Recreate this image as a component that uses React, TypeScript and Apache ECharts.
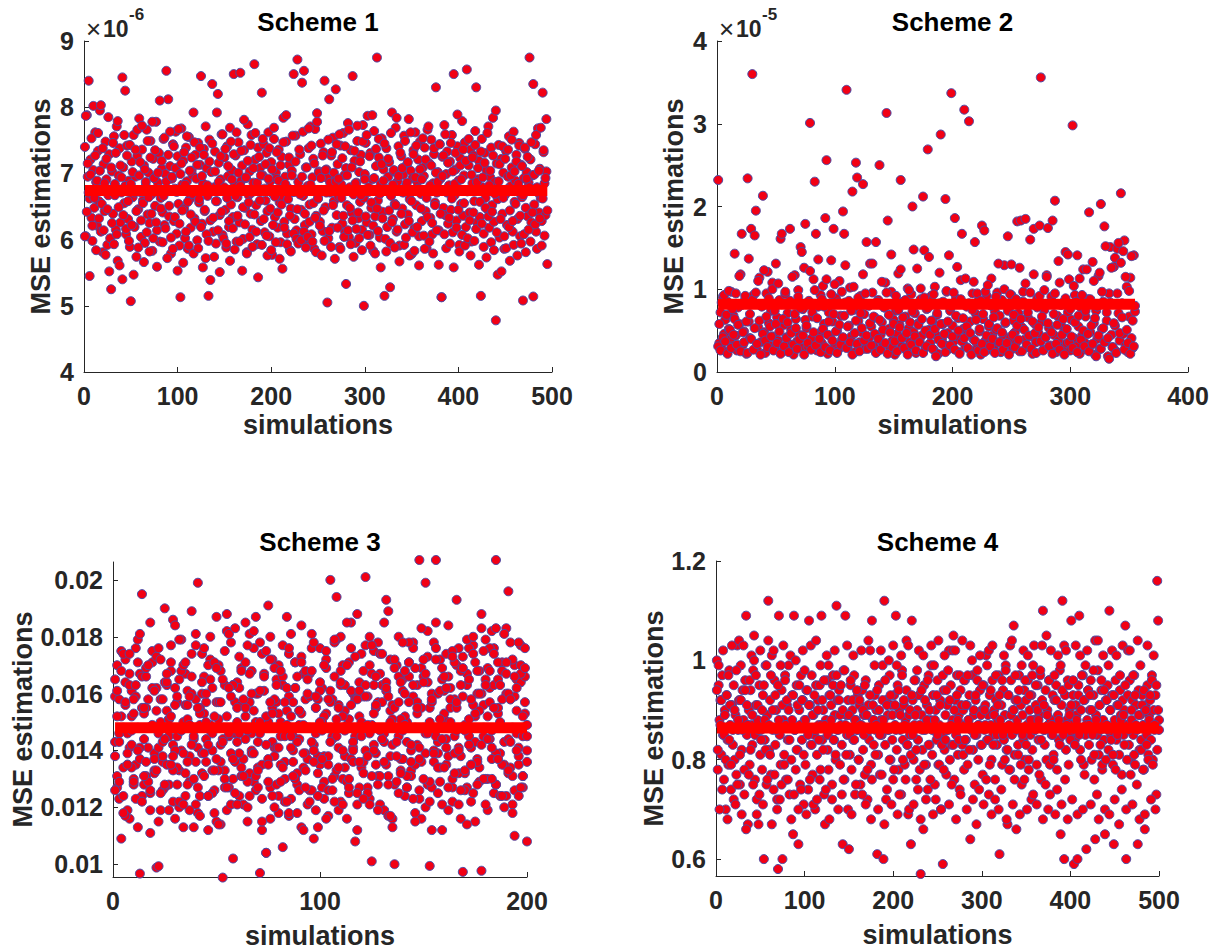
import React, { useEffect, useRef } from "react";
import * as echarts from "echarts";

// ---------------- DATA ----------------
const titles = ["Scheme 1", "Scheme 2", "Scheme 3", "Scheme 4"];
const xTickMax = [500, 400, 200, 500];
const exponentLabels = ["-6", "-5", "", ""];
// mean level drawn as the thick red line (same units as each panel's data)
const meanValues = [6.74, 0.82, 0.0148, 0.864];

// Scheme 1 values in units of 1e-6
const scheme1A = [
7.40,6.05,7.88,6.95,8.40,6.62,7.21,6.33,5.98,7.05,6.48,7.62,6.87,6.21,7.34,
6.58,7.95,6.12,6.76,5.81,7.14,6.43,7.48,6.91,5.92,6.67,7.29,6.02,5.25,7.03,
6.39,7.56,6.84,6.15,7.71,5.68,6.97,7.38,6.26,6.71,8.45,7.09,6.55,8.25,6.08,
7.42,6.31,6.89,5.89,5.07,7.18,6.64,7.58,6.19,6.95,5.74,7.27,6.46,7.83,6.72,
6.04,7.36,6.59,7.12,5.95,6.81,7.66,6.38,7.01,6.25,7.49,6.68,5.83,7.22,6.93,
6.51,7.78,6.14,6.86,7.31,5.97,6.63,7.07,6.41,7.52,6.22,6.99,8.55,6.74,8.12,
6.35,7.11,5.79,6.92,7.44,6.28,6.77,7.63,6.09,7.26,6.54,5.91,5.13,7.68,6.83,
7.19,6.47,6.02,7.39,6.88,5.86,7.55,6.61,6.18,7.04,6.97,7.92,6.32,7.28,6.71,
5.99,7.46,6.56,7.13,8.47,6.24,6.85,7.37,6.43,5.72,7.08,6.66,5.15,7.51,6.29,
7.02,8.35,6.12,6.79,7.33,5.94,6.58,8.20,7.16,6.37,6.91,7.59,6.07,6.73,7.24,
6.45,5.88,7.41,6.96,6.19,7.69,6.53,7.05,6.34,8.50,6.82,7.27,5.97,6.64,7.47,
6.26,8.52,6.89,7.12,6.01,7.35,6.48,6.93,5.81,7.74,6.67,7.03,6.39,7.58,6.15,
6.86,8.65,7.21,6.52,5.93,7.39,6.74,7.08,6.28,8.22,6.97,7.44,6.11,6.59,7.31,
6.43,7.62,6.05,6.88,7.17,5.77,6.69,7.52,6.34,7.01,6.92,6.18,7.36,6.56,5.96,
7.25,6.63,7.84,6.27,6.95,7.48,6.09,6.78,7.13,5.84,6.47,7.04,6.72,8.50,6.31,
7.57,6.14,8.72,6.87,6.01,7.29,6.45,8.37,6.66,8.55,6.22,7.09,5.92,6.81,7.38,
6.53,7.71,6.08,6.94,7.22,5.86,7.67,6.36,7.91,6.62,7.03,6.27,7.45,6.75,6.13,
7.32,8.40,6.49,7.06,6.93,6.02,8.12,6.71,7.27,6.18,7.54,6.58,6.89,8.27,6.37,
7.14,6.65,5.89,7.42,6.83,6.24,7.61,6.97,6.11,7.08,6.52,7.76,6.04,6.79,7.35,
6.41,8.47,6.68,7.19,5.95,6.86,7.49,6.32,7.02,6.57,7.28,6.15,7.73,6.63,6.99,
7.46,6.26,7.87,6.72,6.07,7.31,6.48,6.91,5.83,7.64,6.35,7.11,8.75,6.59,7.24,
6.03,6.84,7.53,6.42,7.06,5.15,6.77,7.38,6.19,6.95,7.17,5.28,6.66,7.92,6.31,
7.03,6.54,7.69,6.12,6.88,7.41,5.91,6.73,7.26,6.47,6.98,7.57,6.23,6.81,7.13,
6.38,7.82,6.61,7.04,5.78,6.93,7.35,6.17,7.62,6.52,6.87,7.21,6.05,7.48,6.69,
6.28,7.09,6.96,7.39,6.43,5.87,7.66,6.75,7.15,6.33,7.51,6.08,6.85,7.29,6.56,
8.30,6.71,7.02,6.14,7.44,6.92,5.13,7.25,6.48,7.73,6.37,6.99,7.33,6.24,6.82,
7.18,6.45,7.58,6.11,8.50,6.67,7.06,6.29,7.41,6.89,5.92,7.23,6.54,7.79,6.36,
6.97,7.47,6.19,8.57,6.73,7.12,6.41,7.36,5.97,6.85,7.27,6.58,7.64,8.30,6.26,
6.91,7.19,6.34,5.15,7.52,6.79,6.09,7.31,6.63,7.05,6.46,7.71,6.18,6.94,7.39,
6.52,7.84,6.27,6.87,4.78,7.15,6.61,7.43,6.03,6.76,7.22,6.39,7.01,5.86,6.68,
7.34,6.22,6.95,7.56,6.44,6.81,7.09,6.12,7.63,6.57,6.89,7.28,6.31,6.72,7.46,
6.05,7.13,6.64,5.08,6.93,7.37,6.48,7.02,6.35,6.86,8.75,7.21,6.26,6.97,8.35,
6.53,7.44,6.12,6.79,7.68,6.41,7.07,6.63,6.28,8.22,7.32,6.85,6.37,7.03,5.63
];
const scheme1B = [
6.05,7.87,6.42,7.15,6.71,5.45,6.98,7.53,6.21,8.02,6.63,7.27,5.84,6.89,7.61,
6.32,7.04,8.03,6.54,7.38,6.14,6.85,5.77,7.22,6.46,7.85,5.52,6.73,7.09,6.25,
7.46,5.93,6.67,7.31,6.08,7.79,6.49,5.61,7.12,6.94,5.40,6.37,7.58,6.81,6.16,
7.27,6.58,5.98,7.43,6.84,6.22,7.02,5.47,6.71,7.36,6.43,7.66,5.88,6.97,7.17,
6.29,7.72,6.55,5.66,7.06,6.87,6.11,7.49,6.64,5.82,7.24,6.39,7.78,6.02,6.93,
7.35,6.26,5.59,7.01,6.76,8.10,6.47,7.19,5.96,6.66,7.54,6.17,6.88,5.72,7.28,
6.51,7.63,6.03,6.95,5.86,7.41,6.34,7.08,6.72,5.53,7.67,6.24,6.99,7.15,6.44,
5.65,7.32,6.83,6.12,7.56,6.57,5.91,7.04,6.38,7.24,6.69,5.79,7.47,6.27,6.92,
7.13,5.87,6.61,7.39,6.19,6.96,5.58,7.28,6.45,7.71,6.08,6.82,5.98,7.18,5.39,
6.74,7.45,6.33,5.74,7.03,6.58,7.92,6.14,6.87,5.51,7.26,6.42,7.59,6.02,6.79,
7.37,5.94,6.63,7.11,6.28,5.68,7.48,6.91,6.17,7.29,5.85,6.66,7.62,6.36,7.01,
5.97,6.81,7.34,5.53,6.49,7.81,6.23,6.94,5.79,7.19,6.56,6.04,7.43,6.71,5.89,
7.08,6.38,7.61,6.12,6.86,5.43,7.25,6.59,6.97,5.92,7.52,6.31,6.77,7.14,6.06,
5.76,6.92,7.38,6.47,5.84,7.06,6.22,7.69,6.65,5.96,7.32,6.41,6.89,5.71,7.12,
6.53,5.56,7.47,6.18,6.84,7.88,5.93,6.61,7.24,6.36,5.82,6.97,7.57,6.09,6.72,
7.18,6.01,6.46,5.94,7.36,6.68,5.99,6.95,7.63,6.12,6.39,5.88,7.09,6.04,7.68,
6.27,6.83,7.42,5.97,6.55,7.15,6.33,5.81,7.78,6.62,7.01,6.21,6.93,5.76,7.27,
6.44,5.98,7.05,6.71,5.05,7.51,6.13,6.86,5.89,7.32,6.52,7.01,5.71,6.88,7.44,
6.18,6.92,7.59,5.86,6.63,7.23,6.36,6.04,7.41,5.33,6.97,6.14,7.66,6.48,5.93,
7.09,6.29,5.74,7.34,6.85,6.16,7.72,6.41,6.02,7.18,6.67,5.84,7.48,5.00,6.91,
6.35,7.58,6.07,6.79,7.26,5.91,6.56,7.88,6.21,6.93,5.79,7.37,6.47,6.13,7.52,
6.69,5.58,7.14,6.32,6.89,7.45,6.01,5.82,6.74,7.22,6.44,5.95,7.61,6.26,6.83,
7.05,5.88,6.52,7.84,6.15,6.96,5.67,7.31,6.39,7.08,6.71,5.92,7.49,6.03,6.86,
7.17,6.28,5.76,7.62,6.58,6.11,7.29,5.83,6.94,7.42,6.19,6.77,5.61,7.06,6.47,
6.91,7.53,6.06,5.86,7.21,6.63,6.34,7.71,5.97,6.82,7.12,6.25,5.79,7.38,6.52,
7.01,6.14,6.87,5.62,7.44,6.39,5.13,6.96,7.27,6.08,7.59,5.87,6.71,7.16,6.33,
5.94,7.46,6.62,7.03,5.58,6.84,7.31,6.18,7.89,6.45,5.82,7.12,6.91,6.07,7.36,
6.55,5.91,7.19,6.73,6.02,7.52,6.29,5.76,6.98,7.24,6.41,5.98,7.43,6.16,6.87,
7.08,5.62,6.57,7.33,6.24,6.94,5.89,7.16,6.48,5.73,7.61,6.35,6.82,7.04,5.96,
6.42,7.27,5.84,6.69,7.95,6.11,5.47,6.88,7.14,6.31,5.52,7.41,6.63,6.05,7.22,
5.87,6.76,7.36,6.19,5.68,6.97,7.51,6.28,5.92,7.03,6.54,7.18,5.76,6.84,7.42,
6.36,5.94,7.11,6.67,6.08,7.39,5.81,6.92,7.25,6.15,6.79,5.97,7.47,6.41,5.14,
6.98,6.23,7.58,5.86,6.71,7.04,6.32,7.69,5.91,6.62,7.35,6.06,6.93,7.82,6.44
];

// Scheme 2 values in units of 1e-5
const scheme2A = [
2.32,0.35,0.72,0.28,0.91,0.46,0.63,0.24,0.85,0.52,0.39,0.97,0.31,0.68,1.43,
0.44,0.26,0.78,0.58,1.18,1.67,0.33,0.49,0.88,0.22,2.34,0.61,0.41,1.73,3.60,
0.93,1.65,1.95,0.27,0.54,1.14,0.36,0.81,2.13,0.48,0.23,0.95,1.21,0.59,0.32,
0.74,1.08,0.43,0.29,1.31,0.66,0.38,0.87,1.61,1.67,0.25,0.57,0.94,0.42,0.71,
0.34,1.73,0.51,0.82,0.21,1.17,0.64,0.37,0.99,0.45,1.51,0.29,0.76,1.26,1.79,
0.53,0.31,0.86,3.01,0.40,0.67,1.12,2.30,1.67,0.26,0.79,0.47,0.93,0.35,1.04,
0.58,1.86,2.56,0.22,0.72,0.44,1.35,0.61,1.73,0.33,0.89,0.50,0.27,1.10,0.68,
0.39,1.94,1.67,0.84,3.41,0.30,0.56,1.02,0.43,2.18,0.75,0.24,2.53,2.35,0.62,
0.36,0.92,0.48,2.27,0.70,0.28,1.57,0.81,0.41,1.31,0.55,0.96,0.32,0.66,1.57,
0.25,0.87,2.50,0.45,0.60,0.34,0.78,1.08,3.13,1.83,0.52,0.29,0.97,0.38,0.63,
0.21,0.74,0.46,1.19,0.57,2.32,0.31,0.85,0.42,0.67,0.26,1.01,0.53,0.36,0.94,
2.00,0.48,0.71,0.23,1.25,0.59,0.38,0.88,0.44,2.12,1.47,0.30,0.76,2.69,0.51,
0.35,0.92,0.62,0.27,1.03,0.45,0.69,0.22,0.83,2.87,0.40,0.58,0.33,2.09,0.97,
0.47,0.28,0.74,3.37,0.56,0.37,1.86,0.89,0.43,0.65,0.24,1.11,1.67,0.52,3.17,
0.31,0.79,0.46,3.03,0.61,0.26,0.95,0.39,1.57,0.70,0.34,0.86,0.49,0.21,1.77,
0.64,1.71,0.38,0.92,0.27,0.55,0.81,1.13,0.44,0.30,0.73,0.51,0.96,0.36,0.68,
0.24,0.87,0.45,1.29,0.59,0.33,1.64,0.77,0.41,0.93,0.28,0.62,0.48,0.35,1.82,
0.71,0.25,1.83,0.54,0.97,0.39,1.85,0.30,0.66,0.82,1.60,0.43,0.22,1.73,0.58,
0.36,0.89,0.47,1.77,3.56,0.61,0.27,0.75,0.42,1.17,1.74,0.53,0.32,0.91,1.83,
0.45,2.07,0.24,0.68,0.38,1.08,0.57,0.29,0.84,0.49,1.45,0.35,0.72,1.12,0.26,
0.63,2.98,0.41,0.93,0.31,1.41,0.55,0.22,0.78,0.44,1.24,0.36,0.67,0.27,0.88,
1.93,0.48,0.33,1.33,0.59,0.21,0.74,0.40,1.16,0.28,2.03,0.52,0.85,1.76,0.37,
0.62,0.19,0.95,1.51,0.45,0.30,1.27,0.56,0.25,1.49,0.71,0.38,2.16,0.83,0.46,
1.59,0.32,1.03,0.24,0.67,1.14,0.41,0.29,1.41,0.73
];
const scheme2B = [
0.31,0.58,0.26,0.84,0.42,0.93,0.37,0.69,0.22,0.98,0.51,0.29,0.76,0.45,0.64,
0.95,0.33,0.57,1.16,0.25,0.81,0.48,0.36,0.92,0.61,0.23,1.37,0.70,0.40,0.87,
0.27,0.53,0.96,0.34,1.10,0.62,0.21,0.79,0.46,1.23,0.38,0.67,0.30,0.89,0.55,
0.43,1.00,0.26,0.74,0.58,0.35,1.07,0.49,0.22,0.82,0.64,0.31,0.97,0.41,0.60,
0.24,0.86,0.47,1.15,0.33,0.70,0.53,0.28,0.91,0.39,0.77,1.45,0.44,0.21,0.63,
0.56,0.35,0.83,1.22,0.27,0.72,0.48,0.99,0.32,0.65,1.36,0.40,0.24,0.88,0.52,
0.79,0.30,1.12,0.45,0.61,0.26,0.94,0.38,0.70,1.06,0.49,0.23,0.84,0.57,0.33,
0.97,0.42,0.68,1.29,0.29,0.55,0.86,0.36,0.74,0.21,1.03,0.47,0.62,0.34,0.90,
0.25,0.71,0.53,1.18,0.38,0.95,0.44,0.28,0.80,0.59,0.32,1.31,0.67,0.46,0.23,
0.85,0.40,0.63,0.27,1.09,0.51,0.78,0.35,0.96,0.22,0.69,0.48,1.42,0.30,0.58,
0.37,0.92,0.25,0.75,0.54,1.24,0.41,0.66,0.29,0.87,0.47,0.21,0.99,0.60,0.33,
0.73,1.48,0.43,0.26,0.82,0.57,0.36,1.01,0.64,0.23,0.90,0.50,0.31,0.77,1.39,
0.45,0.62,0.28,0.94,0.52,0.19,0.71,0.39,1.20,0.58,0.34,0.85,0.46,0.24,0.98,
0.61,1.41,0.32,0.79,0.43,0.96,0.27,0.68,1.27,0.50,0.22,0.88,0.37,0.65,0.41,
1.13,0.55,0.29,0.83,0.47,0.21,0.75,1.09,0.38,0.63,0.95,0.26,0.52,0.86,0.34,
0.70,0.24,0.97,0.44,1.05,0.58,0.31,0.80,0.40,0.66,0.23,0.91,0.53,1.31,0.36,
0.82,0.48,0.27,1.00,0.60,0.35,0.74,0.21,0.94,1.30,0.45,0.69,0.30,0.88,0.56,
0.39,1.26,0.64,0.25,0.85,0.51,1.07,0.33,0.72,0.44,0.96,0.28,0.61,1.18,0.47,
0.23,0.78,0.54,0.92,0.37,0.67,0.26,0.99,0.42,1.15,0.59,0.31,0.83,0.48,0.22,
0.70,0.95,0.34,0.57,1.34,0.27,0.81,0.45,0.64,0.21,0.89,0.52,1.42,0.36,0.76,
0.43,0.29,1.04,0.60,0.85,0.24,0.68,1.13,0.39,0.93,0.50,0.31,0.74,1.24,0.46,
0.25,0.88,0.56,0.34,1.10,0.65,0.19,0.79,0.44,1.20,0.28,0.97,0.53,0.36,1.52,
0.72,0.41,0.16,0.84,1.26,0.30,0.59,1.38,0.23,0.95,1.56,0.47,1.32,0.66,1.46,
0.27,1.15,0.51,0.35,0.98,0.22,1.40,0.62,0.31,0.80
];

// Scheme 3 values
const scheme3A = [
.0159,.0170,.0123,.0109,.0148,.0164,.0135,.0141,.0152,.0128,.0176,.0113,.0167,.0195,.0144,.0131,.0158,.0125,.0171,.0139,
.0162,.0146,.0119,.0136,.0190,.0154,.0128,.0168,.0142,.0116,.0157,.0133,.0179,.0150,.0124,.0161,.0138,.0189,.0147,.0121,
.0199,.0155,.0132,.0166,.0144,.0112,.0172,.0140,.0126,.0187,.0151,.0136,.00953,.0163,.0119,.0145,.0178,.0130,.0157,.0143,
.0124,.0169,.0137,.0152,.0115,.0181,.0146,.0129,.0160,.0134,.00969,.0174,.0149,.0104,.0191,.0127,.0155,.0141,.0165,.0118,
.0150,.0106,.0136,.0187,.0159,.0123,.0145,.0171,.0132,.0154,.0113,.0167,.0139,.0148,.0126,.0176,.0142,.0119,.0158,.0135,
.0162,.0129,.0153,.0117,.0200,.0144,.0131,.0194,.0156,.0122,.0170,.0138,.0149,.0125,.0185,.0141,.0160,.0112,.0152,.0134,
.0168,.0201,.0127,.0146,.0101,.0175,.0139,.0157,.0121,.0163,.0143,.0193,.0131,.0154,.0116,.0100,.0148,.0180,.0137,.0165,
.0124,.0150,.0171,.0133,.0159,.0118,.0142,.0207,.0136,.0166,.0199,.0128,.0155,.0112,.0147,.0207,.0139,.0172,.0121,.0161,
.0135,.0184,.0149,.0127,.0158,.0193,.0141,.0116,.0173,.0132,.0163,.0145,.0122,.0177,.0152,.0137,.0168,.00977,.0156,.0130,
.0169,.0144,.0182,.0125,.0207,.0153,.0139,.0171,.0120,.0160,.0196,.0134,.0148,.0126,.0165,.0141,.0177,.0131,.0157,.0108
];
const scheme3B = [
.0143,.0131,.0158,.0147,.0124,.0172,.0139,.0116,.0161,.0153,.0135,.0148,.00967,.0166,.0128,.0155,.0141,.0119,.0175,.0133,
.00988,.00993,.0150,.0138,.0127,.0163,.0145,.0171,.0122,.0156,.0134,.0179,.0140,.0113,.0167,.0151,.0129,.0160,.0144,.0136,
.0118,.0149,.0174,.0131,.0157,.0142,.0165,.0125,.0152,.0137,.0170,.0114,.0148,.0133,.0182,.0127,.0159,.0102,.0146,.0164,
.0139,.0156,.0121,.0185,.0147,.0132,.0168,.0154,.0126,.0143,.0178,.0135,.0161,.0104,.0150,.0116,.0172,.0138,.0157,.0124,
.0145,.0166,.0130,.0154,.0117,.0181,.0140,.0162,.0128,.0149,.0173,.0134,.0158,.0121,.0167,.0143,.0109,.0155,.0138,.0176,
.0127,.0152,.0169,.0135,.0148,.0158,.0122,.0179,.0141,.0163,.0130,.0154,.0116,.0171,.0137,.0160,.0145,.0188,.0127,.0150,
.0136,.0177,.0159,.0123,.0167,.0142,.0155,.0131,.0174,.0147,.0119,.0164,.0189,.0138,.0156,.0128,.0170,.0145,.0133,.0161,
.0152,.0127,.0166,.0140,.0178,.0135,.0157,.0126,.0169,.0148,.0120,.0173,.00994,.0160,.0136,.0185,.0143,.0129,.0165,.0151,
.0174,.0138,.0158,.0122,.0145,.0170,.0132,.0163,.00973,.0149,.0127,.0176,.0141,.0156,.0115,.0168,.0134,.0160,.0145,.0179,
.0130,.0162,.0147,.0176,.0139,.0155,.0124,.0168,.0143,.0183,.0132,.0158,.0121,.0170,.0146,.0135,.0164,.0127,.0153,.0140
];
const scheme3C = [
.0165,.0127,.0146,.0175,.0134,.0156,.0119,.0163,.0142,.0130,.0159,.0171,.0137,.0124,.0153,.0166,.0129,.0185,.0148,.0132,
.0173,.0141,.0158,.0126,.0164,.0135,.0151,.0177,.0133,.0162,.0145,.0120,.0168,.0139,.0156,.0128,.0149,.0174,.0113,.0158,
.0141,.0124,.0160,.0153,.0136,.0170,.0147,.0162,.0118,.0157,.0133,.0168,.0144,.0127,.0152,.0181,.0139,.0163,.0125,.0150,
.0162,.0134,.0148,.0171,.0129,.0157,.0140,.0176,.0131,.0160,.0146,.0123,.0167,.0152,.0137,.0180,.0143,.0158,.0128,.0170,
.0135,.0163,.0122,.0149,.0174,.0141,.0157,.0130,.0166,.0144,.0153,.0112,.0168,.0137,.0159,.0126,.0178,.0146,.0132,.0161,
.0150,.0138,.0172,.0126,.0161,.0145,.0178,.0133,.0155,.0168,.0140,.0163,.0129,.0151,.0176,.0136,.0158,.0121,.0164,.0147,
.0159,.0140,.0125,.0170,.0149,.0163,.0135,.0178,.0131,.0157,.0146,.0161,.0117,.0172,.0142,.0155,.0129,.0166,.0151,.0137,
.0168,.0143,.0157,.0131,.0176,.0148,.0163,.0123,.0155,.0172,.0139,.0164,.0150,.0127,.0178,.0145,.0160,.0134,.0169,.0153,
.0141,.0166,.0155,.0130,.0171,.0147,.0176,.0138,.0159,.0126,.0167,.0151,.0135,.0174,.0143,.0160,.0129,.0183,.0148,.0165,
.0152,.0176,.0137,.0163,.0128,.0171,.0149,.0158,.0135,.0167,.0144,.0178,.0131,.0159,.0162,.0124,.0170,.0145,.0166,.0149
];
const scheme3D = [
.0138,.0161,.0129,.0152,.0174,.0117,.0146,.0167,.0134,.0158,.0123,.0179,.0141,.0155,.0131,.0169,.0148,.0126,.0162,.0137,
.0154,.0115,.0172,.0143,.0128,.0164,.0151,.0135,.0186,.0140,.0159,.0122,.0147,.0170,.0132,.0156,.0119,.0166,.0145,.0181,
.0127,.0153,.0139,.0176,.0160,.0124,.0149,.0133,.0171,.0115,.0157,.0142,.0165,.0130,.0188,.0146,.0121,.0163,.0136,.0155,
.0173,.0131,.0158,.0144,.0120,.0167,.0139,.0182,.0150,.0127,.0161,.0112,.0148,.0175,.0135,.0157,.0124,.0169,.0141,.0153,
.0129,.0177,.0145,.0162,.0118,.0152,.0136,.0171,.0143,.0126,.0184,.0149,.0133,.0160,.0122,.0168,.0140,.0155,.0113,.0164,
.0147,.0123,.0175,.0138,.0157,.0130,.0166,.0145,.0119,.0180,.0152,.0134,.0170,.0127,.0161,.0143,.0108,.0158,.0136,.0174,
.0132,.0163,.0149,.0121,.0177,.0140,.0156,.0128,.0167,.0144,.0185,.0135,.0159,.0117,.0151,.0172,.0138,.0125,.0164,.0147,
.0160,.0131,.0178,.0142,.0123,.0169,.0153,.0137,.0116,.0164,.0146,.0182,.0129,.0157,.0140,.0172,.0134,.0151,.0112,.0166,
.0144,.0127,.0162,.0175,.0139,.0155,.0121,.0168,.0148,.0133,.0179,.0142,.0158,.0125,.0171,.0136,.0154,.0188,.0130,.0163,
.0119,.0157,.0141,.0174,.0128,.0165,.0150,.0135,.0181,.0124,.0160,.0143,.0172,.0110,.0154,.0138,.0167,.0131,.0176,.0145
];
const scheme3E = [
.0126,.0152,.0143,.0168,.0118,.0157,.0135,.0174,.0147,.0129,.0163,.0140,.0181,.0122,.0155,.0136,.0170,.0111,.0149,.0161,
.0133,.0176,.0125,.0158,.0144,.0167,.0119,.0152,.0138,.0184,.0128,.0165,.0147,.0121,.0171,.0136,.0159,.0142,.0130,.0177,
.0155,.0117,.0164,.0139,.0150,.0124,.0180,.0146,.0133,.0169,.0114,.0157,.0143,.0175,.0127,.0162,.0148,.0137,.0183,.0121,
.0146,.0168,.0131,.0155,.0177,.0124,.0160,.0139,.0187,.0133,.0150,.0115,.0166,.0142,.0129,.0172,.0153,.0120,.0163,.0141,
.0168,.0134,.0157,.0122,.0176,.0145,.0131,.0162,.0118,.0154,.0171,.0139,.0127,.0165,.0148,.0181,.0136,.0159,.0124,.0150,
.0137,.0170,.0116,.0158,.0143,.0126,.0179,.0151,.0134,.0164,.0121,.0147,.0185,.0130,.0156,.0140,.0173,.0125,.0161,.0145,
.0123,.0159,.0138,.0180,.0131,.0153,.0166,.0119,.0147,.0174,.0136,.0162,.0128,.0150,.0113,.0169,.0143,.0157,.0132,.0178,
.0149,.0127,.0171,.0136,.0163,.0115,.0155,.0141,.0183,.0130,.0167,.0146,.0122,.0158,.0139,.0176,.0125,.0161,.0144,.0134,
.0162,.0119,.0150,.0173,.0132,.0157,.0140,.0126,.0169,.0147,.0114,.0165,.0135,.0180,.0153,.0128,.0160,.0142,.0175,.0121,
.0144,.0168,.0130,.0155,.0183,.0137,.0163,.0124,.0148,.0171,.0133,.0158,.0118,.0166,.0140,.0178,.0127,.0152,.0169,.0136
];

// Scheme 4 values
const scheme4A = [
1.00,.78,.95,.88,.92,.81,.97,.85,.76,.90,.70,.93,.84,.79,.98,.87,.74,.91,.83,.95,
.80,.89,.77,1.03,.86,.92,.75,.99,.82,.94,.88,.73,.96,1.09,.85,.67,.90,.79,.94,.87,
.83,.98,1.05,.76,.91,.72,.88,.67,.95,.81,.86,.78,.93,.60,.84,.99,.75,.89,1.12,.82,
.92,.77,1.01,.86,.74,.96,.83,.90,.72,.58,1.09,.85,.79,.94,.60,.88,.81,.97,.76,.91,
.84,.99,.73,.87,.80,.93,.65,1.09,.86,.78,.95,.82,.63,.90,.75,.97,.84,.92,.71,.88,
.79,.94,.86,.74,1.08,.91,.83,.97,.77,.89,.85,.70,.95,.81,.92,.87,.76,.99,1.09,.84,
.90,.73,.67,.88,.96,.82,.78,.93,.86,.91,.75,.97,.84,.89,.80,1.11,.92,.86,.94,.79,
.87,.83,.63,.98,.76,1.09,.89,.85,.92,.62,.81,.95,.78,.90,.84,.97,.73,.88,.86,.93,
.80,.91,.75,.87,.94,.82,.89,.77,.96,.85,.72,.91,.84,1.02,.79,1.08,.88,.83,.93,.86,
.90,.61,.81,.95,.77,.88,.85,.99,.60,1.12,.83,.92,.74,.89,.86,.97,.80,.91,.84,.76,
.93,.87,1.09,.82,.95,.78,.90,.86,.73,.98,.84,.91,.79,.88,.94,.83,.69,.89,.85,.63,
1.08,.92,.80,.87,.96,.76,.90,.84,.93,.78,.57,.89,.82,.66,.95,.86,.79,.91,.74,.97,
.83,.88,.99,.81,.93,.86,.75,.90,.84,.96,.79,.87,.92,.70,.85,.59,.94,.82,.89,.77,
.91,.86,1.02,.80,.95,.83,.88,1.05,.76,.92,.85,.97,.81,.89,.74,.94,.87,.83,.90,.78,
.96,.84,.91,.79,.88,.93,.64,.86,.97,.82,.89,.75,.92,.85,.98,.80,.87,.94,.83,.90,
.77,.95,.86,.91,1.01,.84,.89,.73,.93,.87,.80,.96,.85,.90,.76,.92,.83,.88,.97,.61,
.86,.91,.79,.94,.84,.89,.99,.82,.67,.93,.87,.78,.96,.85,.90,1.07,.81,.92,.66,.88,
.83,.97,.86,.91,.75,.89,.84,.94,.80,.92,.87,.96,.78,.90,.85,.93,.82,.99,.88,.86,
.91,.79,.95,.84,.89,.97,.76,.92,1.10,.86,.83,.94,.80,.90,.87,.96,.73,.88,.85,.93,
.81,.92,.87,.95,.78,.89,.84,.98,.65,.91,1.12,.86,.60,.93,.82,.88,.96,.79,.90,.85,
1.08,.87,.93,.59,.84,.91,.89,.60,.95,1.09,.82,.90,.86,.97,.79,.92,.85,.62,.88,.94,
.83,.90,.96,.80,.87,.93,.76,.64,.89,.85,.98,.81,.91,.86,.94,.78,.88,.84,.65,.92,
.87,.95,.82,1.10,.90,.85,.93,.79,.63,.88,.96,.84,.91,.86,.81,.94,.89,.77,.92,.85,
.90,1.07,.60,.87,.93,.83,.96,.80,.88,.92,.85,.97,.79,.91,.86,.63,.94,.82,.89,.84,
.93,.87,.78,.66,.91,.85,.95,.81,.89,.92,.84,.97,.80,.90,.86,.93,.73,1.16,1.08,.88
];
const scheme4B = [
.94,.82,.99,.70,.87,.92,.74,1.02,.85,.89,.80,.93,.68,.97,.84,.91,.79,1.03,.86,.72,
.90,.71,.98,.75,.88,1.04,.81,.92,.69,.86,1.03,.78,.94,.66,.91,.87,.77,.96,.82,1.01,
.89,.75,1.00,.85,.97,.69,.91,.86,.73,1.02,.84,.90,.71,.95,.88,.82,.99,.76,1.04,.87,
.81,.97,.67,.90,1.02,.77,.93,.86,.70,.95,.88,.72,.99,.75,.91,1.03,.79,.96,.87,.92,
.76,.90,.84,1.01,.68,.88,.93,.73,.86,1.00,.82,.91,.70,.95,.87,.74,.92,1.02,.81,.98,
.88,.69,.94,.85,.91,.76,1.03,.83,.89,.71,.93,.86,1.04,.72,.90,.84,.95,.78,.87,.92,
.82,.96,.87,.74,1.01,.85,.99,.68,.93,.88,.72,.95,.84,1.02,.81,.97,.86,.70,.92,.89,
.95,.73,.90,.76,.98,.87,.81,1.03,.70,.89,.85,.96,.69,.92,1.01,.84,.88,.75,.94,.86,
.80,.92,.87,1.02,.73,.90,.85,.95,.71,.89,.78,1.04,.86,.93,.68,.76,.91,.88,.99,.81,
.87,.94,.70,.90,.85,1.02,.77,.92,.88,.67,.96,.72,.91,.86,1.00,.80,.93,.71,.89,1.03,
.78,.91,.86,.99,.69,.94,.73,.89,1.01,.97,.80,.92,.87,.76,1.04,.83,1.03,.70,.90,.81,
.93,.85,.71,.96,.89,.82,.98,.74,1.02,.87,.68,.94,.86,1.01,.79,.92,.72,.88,.96,.83,
.90,.76,1.03,.86,.69,.99,.88,.72,.93,.85,1.04,.79,.91,.70,.83,.97,.78,1.01,.84,.94,
.86,.98,.71,.92,.87,.75,1.02,.83,.90,1.02,.68,.93,.88,.84,.97,.73,.91,1.04,.81,.96,
.84,.91,.70,.97,.88,.82,1.03,.86,1.00,.72,.90,.85,.93,.67,.96,.87,.74,1.01,.89,.83,
.95,.71,.90,.87,.76,.99,.84,1.02,.79,.94,.69,1.03,.83,.89,.72,.97,.85,.91,.70,.93,
.88,.74,.96,.85,1.01,.80,.98,.68,.82,.93,.78,1.03,.89,1.04,.71,.90,.76,.97,.86,.92,
.81,.94,.69,.79,.99,.85,1.02,.76,.96,.83,.70,1.01,.80,.93,.88,.72,.97,.73,1.03,.86,
.95,.71,.90,.88,.77,.98,.84,1.03,.68,.91,.86,.75,1.05,.89,.70,.96,.79,1.02,.87,.85,
.80,.97,.69,.92,.74,1.01,.88,.83,.99,.71,.94,.85,1.03,.76,1.02,.87,.68,.95,.89,.84,
.91,.72,.96,.86,.83,1.03,.88,.69,.93,.85,1.01,.80,.97,.70,.92,.77,.99,.87,1.02,.94,
.87,.93,.71,.90,.85,.98,.81,1.04,.88,.73,1.04,.68,.91,.83,.96,.79,1.01,.94,.70,.80,
.92,.86,.99,.69,.90,.84,1.02,.81,.93,.72,.78,1.01,.85,.91,.67,.97,.88,.74,1.03,.89,
.83,.95,.70,.80,1.02,.86,1.02,.77,.90,.71,.97,.81,.93,.87,.75,1.04,.89,.68,.99,.82,
.91,.78,.94,.69,.90,.83,1.03,.80,.88,.93,.72,.96,.79,1.01,.87,.70,.95,.82,.90,.86
];

const panelSeries = [
  [scheme1A, scheme1B],
  [scheme2A, scheme2B],
  [scheme3A, scheme3B, scheme3C, scheme3D, scheme3E],
  [scheme4A, scheme4B],
];

// ---------------- LAYOUT / STYLE ----------------
const FONT = '"Liberation Sans", Arial, Helvetica, sans-serif';
const AXIS = "#262626";
const grids = [
  { left: 84, top: 41, width: 468, height: 331 },
  { left: 717, top: 41, width: 471, height: 331 },
  { left: 113, top: 562, width: 414, height: 315 },
  { left: 716, top: 561, width: 443, height: 315 },
];
const yCfg: any[] = [
  { min: 4, max: 9, interval: 1 },
  { min: 0, max: 4, interval: 1 },
  { min: 0.00955, max: 0.02063, splitNumber: 5, hideEnds: true },
  { min: 0.566, max: 1.2, splitNumber: 3, hideMin: true },
];
const yNameGap = [30, 30, 76, 47];
const xNameGap = [39, 39, 45, 45];

export default function App() {
  const ref = useRef<HTMLDivElement>(null);
  useEffect(() => {
    document.body.style.margin = "0";
    const chart = echarts.init(ref.current!, undefined, { renderer: "svg" });
    const labelStyle = { fontSize: 25, fontWeight: "bold", color: AXIS, fontFamily: FONT };
    const nameStyle = { fontSize: 27, fontWeight: "bold", color: AXIS, fontFamily: FONT };
    const xAxis = grids.map((_, i) => ({
      gridIndex: i,
      type: "value",
      min: 0,
      max: xTickMax[i],
      interval: 100,
      name: "simulations",
      nameLocation: "middle",
      nameGap: xNameGap[i],
      nameTextStyle: nameStyle,
      axisLine: { show: true, onZero: false, lineStyle: { color: AXIS, width: 1 } },
      axisTick: { show: true, inside: true, length: 5, lineStyle: { color: AXIS } },
      axisLabel: { ...labelStyle, margin: 11 },
      splitLine: { show: false },
    }));
    const yAxis = grids.map((_, i) => {
      const c = yCfg[i];
      const ax: any = {
        gridIndex: i,
        type: "value",
        min: c.min,
        max: c.max,
        name: "MSE estimations",
        nameLocation: "middle",
        nameGap: yNameGap[i],
        nameRotate: 90,
        nameTextStyle: nameStyle,
        axisLine: { show: true, onZero: false, lineStyle: { color: AXIS, width: 1 } },
        axisTick: { show: true, inside: true, length: 5, lineStyle: { color: AXIS } },
        axisLabel: {
          ...labelStyle,
          margin: 10,
          showMinLabel: !(c.hideEnds || c.hideMin),
          showMaxLabel: !c.hideEnds,
        },
        splitLine: { show: false },
      };
      if (c.interval) ax.interval = c.interval;
      if (c.splitNumber) ax.splitNumber = c.splitNumber;
      return ax;
    });
    const series: any[] = [];
    panelSeries.forEach((list, i) => {
      list.forEach((vals) => {
        series.push({
          type: "scatter",
          xAxisIndex: i,
          yAxisIndex: i,
          data: vals.map((v, j) => [j + 1, v]),
          symbolSize: 9,
          clip: false,
          itemStyle: { color: "#f20014", borderColor: "#4a4aa6", borderWidth: 1, opacity: 1 },
          z: 2,
        });
      });
      const n = list[0].length;
      series.push({
        type: "line",
        xAxisIndex: i,
        yAxisIndex: i,
        data: [[1, meanValues[i]], [n, meanValues[i]]],
        symbol: "none",
        lineStyle: { color: "#ff0000", width: 11 },
        z: 3,
        silent: true,
      });
    });
    const graphic: any[] = [];
    grids.forEach((g, i) => {
      graphic.push({
        type: "text",
        x: g.left + g.width / 2,
        y: i < 2 ? 22 : 542,
        style: {
          text: titles[i],
          fontSize: 26,
          fontWeight: "bold",
          fontFamily: FONT,
          fill: "#000",
          align: "center",
          verticalAlign: "middle",
        },
      });
      if (exponentLabels[i]) {
        graphic.push({
          type: "text",
          x: g.left + 2,
          y: 29,
          style: { text: "×", fontSize: 26, fontFamily: FONT, fill: AXIS, align: "left", verticalAlign: "middle" },
        });
        graphic.push({
          type: "text",
          x: g.left + 19,
          y: 29,
          style: { text: "10", fontSize: 23, fontWeight: "bold", fontFamily: FONT, fill: AXIS, align: "left", verticalAlign: "middle" },
        });
        graphic.push({
          type: "text",
          x: g.left + 45,
          y: 14,
          style: { text: exponentLabels[i], fontSize: 17, fontWeight: "bold", fontFamily: FONT, fill: AXIS, align: "left", verticalAlign: "middle" },
        });
      }
    });
    chart.setOption({
      animation: false,
      backgroundColor: "#ffffff",
      textStyle: { fontFamily: FONT },
      grid: grids.map((g) => ({ ...g, containLabel: false })),
      xAxis,
      yAxis,
      series,
      graphic,
    });
    return () => chart.dispose();
  }, []);
  return <div ref={ref} style={{ width: 1214, height: 951 }} />;
}
